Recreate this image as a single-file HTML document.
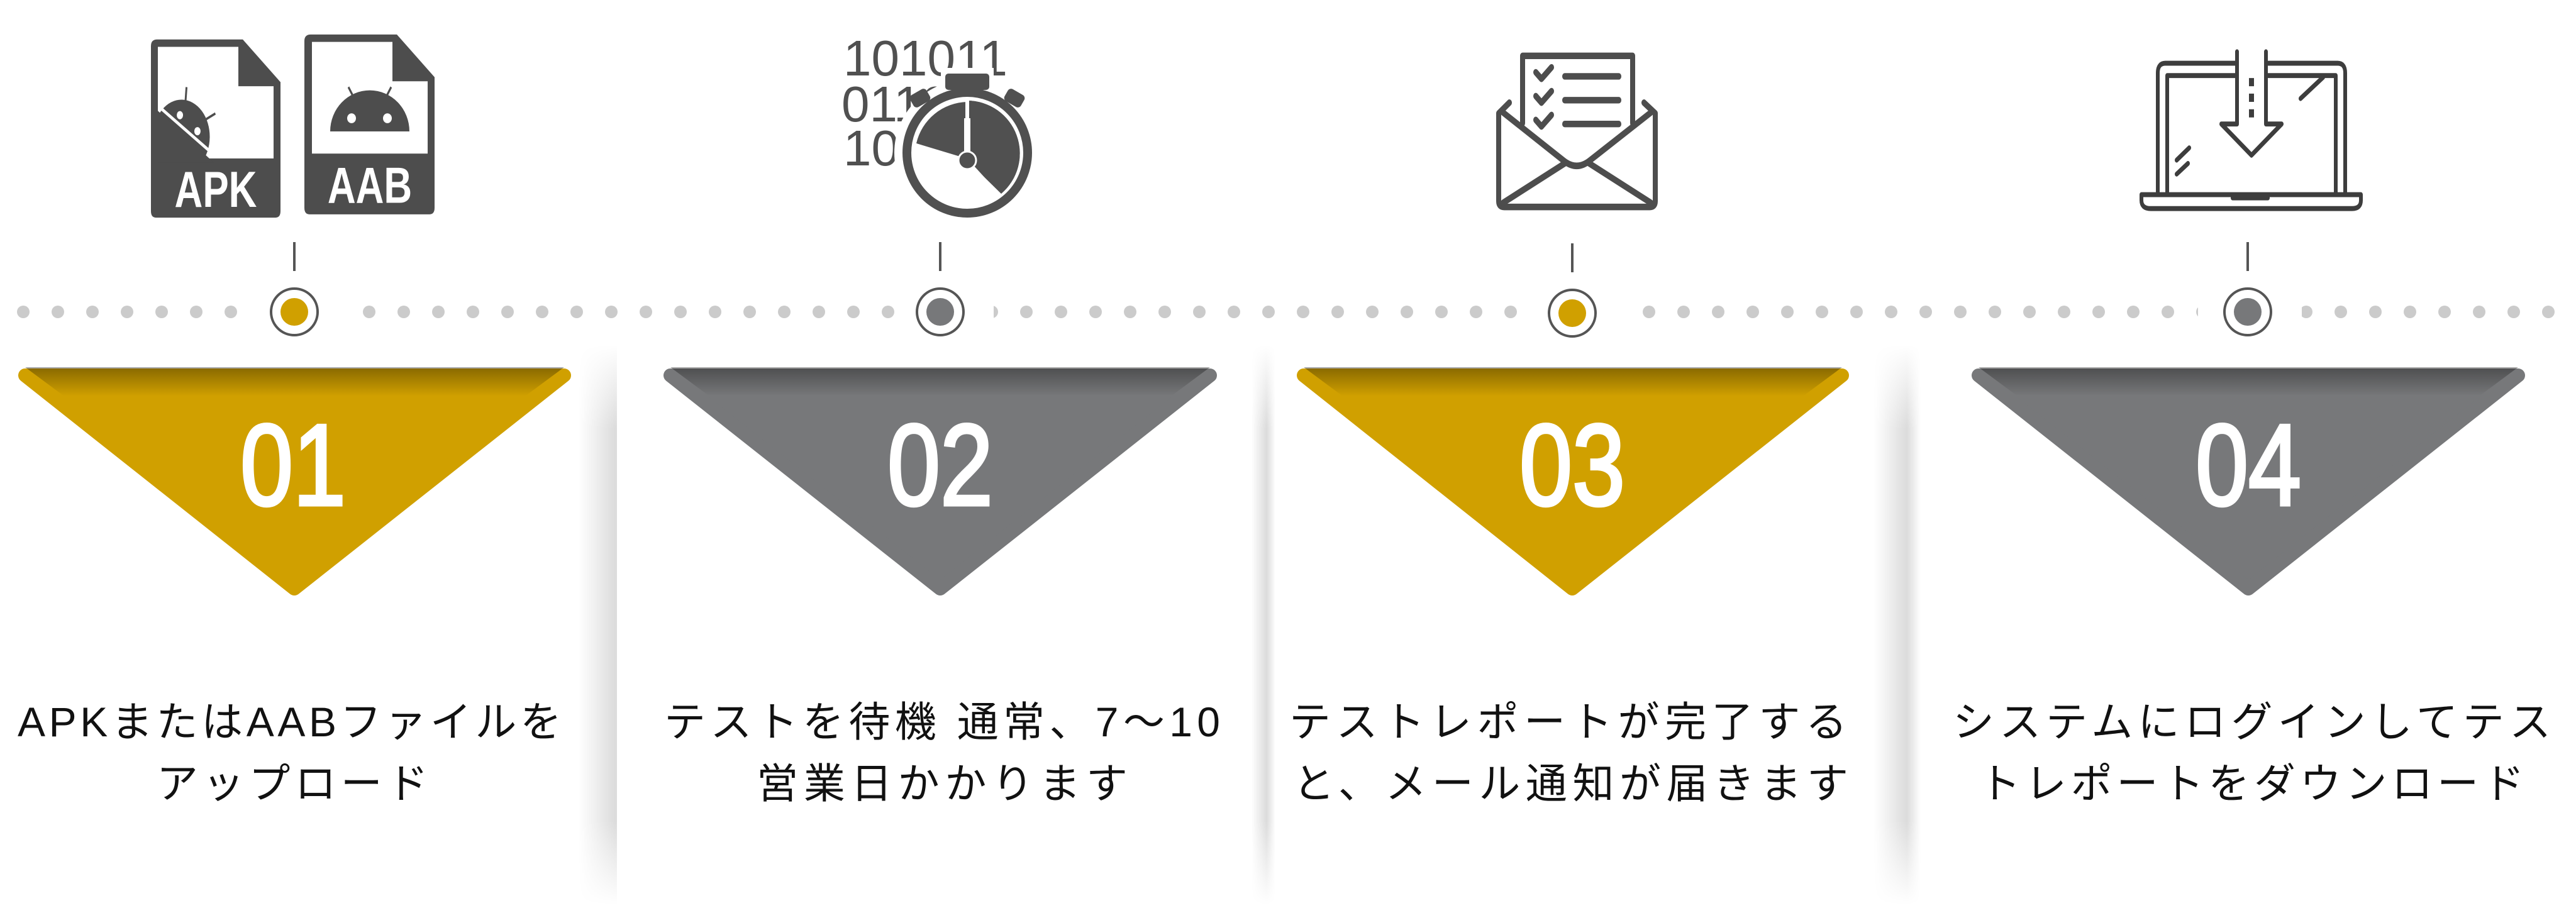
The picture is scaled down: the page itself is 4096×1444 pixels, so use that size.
<!DOCTYPE html>
<html><head><meta charset="utf-8">
<style>
html,body{margin:0;padding:0;background:#fff;}
body{width:4096px;height:1439px;overflow:hidden;}
text{font-family:"Liberation Sans","Noto Sans CJK JP",sans-serif;}
</style></head>
<body>
<svg width="4096" height="1439" viewBox="0 0 4096 1439" xmlns="http://www.w3.org/2000/svg">
<defs>
  <pattern id="dots" x="37" y="0" width="55" height="1439" patternUnits="userSpaceOnUse">
    <ellipse cx="0" cy="496" rx="10" ry="10" fill="#cbcbcb"/>
    <ellipse cx="55" cy="496" rx="10" ry="10" fill="#cbcbcb"/>
  </pattern>
  <linearGradient id="shL" x1="0" x2="1" y1="0" y2="0">
    <stop offset="0" stop-color="#000" stop-opacity="0"/>
    <stop offset="1" stop-color="#000" stop-opacity="0.14"/>
  </linearGradient>
  <linearGradient id="shR" x1="0" x2="1" y1="0" y2="0">
    <stop offset="0" stop-color="#000" stop-opacity="0.14"/>
    <stop offset="1" stop-color="#000" stop-opacity="0"/>
  </linearGradient>
  <linearGradient id="fadeV" x1="0" x2="0" y1="0" y2="1">
    <stop offset="0" stop-color="#fff" stop-opacity="0"/>
    <stop offset="0.15" stop-color="#fff" stop-opacity="1"/>
    <stop offset="0.85" stop-color="#fff" stop-opacity="1"/>
    <stop offset="1" stop-color="#fff" stop-opacity="0"/>
  </linearGradient>
  <mask id="vm" maskUnits="userSpaceOnUse" x="0" y="0" width="4096" height="1439">
    <rect x="0" y="548" width="4096" height="891" fill="url(#fadeV)"/>
  </mask>
  <linearGradient id="topsh" x1="0" x2="0" y1="0" y2="1">
    <stop offset="0" stop-color="#000" stop-opacity="0.35"/>
    <stop offset="1" stop-color="#000" stop-opacity="0"/>
  </linearGradient>
</defs>

<!-- panel shadows -->
<g mask="url(#vm)">
  <rect x="920" y="548" width="59" height="891" fill="url(#shL)"/>
  <rect x="979" y="548" width="2" height="891" fill="#dcdcdc"/>
  <rect x="2014" y="548" width="14" height="891" fill="url(#shR)"/>
  <rect x="1990" y="548" width="24" height="891" fill="url(#shL)"/>
  <rect x="2980" y="548" width="52" height="891" fill="url(#shL)"/>
  <rect x="3032" y="548" width="22" height="891" fill="url(#shR)"/>
</g>

<!-- dotted line -->
<rect x="20" y="480" width="390" height="40" fill="url(#dots)"/>
<rect x="555" y="480" width="870" height="40" fill="url(#dots)"/>
<rect x="1580" y="480" width="840" height="40" fill="url(#dots)"/>
<rect x="2585" y="480" width="910" height="40" fill="url(#dots)"/>
<rect x="3660" y="480" width="436" height="40" fill="url(#dots)"/>

<!-- ticks + circles -->
<g fill="#555">
  <rect x="466" y="385" width="4" height="46"/>
  <rect x="1493" y="385" width="4" height="46"/>
  <rect x="2498" y="387" width="4" height="46"/>
  <rect x="3572" y="385" width="4" height="46"/>
</g>
<g stroke="#555" stroke-width="4" fill="#fff">
  <circle cx="468" cy="496" r="37"/>
  <circle cx="1495" cy="496" r="37"/>
  <circle cx="2500" cy="498" r="37"/>
  <circle cx="3574" cy="496" r="37"/>
</g>
<circle cx="468" cy="496" r="22" fill="#d0a000"/>
<circle cx="1495" cy="496" r="22" fill="#77787a"/>
<circle cx="2500" cy="498" r="22" fill="#d0a000"/>
<circle cx="3574" cy="496" r="22" fill="#77787a"/>

<!-- triangles -->
<g stroke-linejoin="round" stroke-width="22">
  <polygon points="40,597 897,597 468,936" fill="#d0a000" stroke="#d0a000"/>
  <polygon points="1066,597 1924,597 1495,936" fill="#77787a" stroke="#77787a"/>
  <polygon points="2073,597 2929,597 2500,936" fill="#d0a000" stroke="#d0a000"/>
  <polygon points="3146,597 4004,597 3575,936" fill="#77787a" stroke="#77787a"/>
</g>
<g fill="url(#topsh)">
  <polygon points="40,584 897,584 835,630 102,630"/>
  <polygon points="1066,584 1924,584 1862,630 1128,630"/>
  <polygon points="2073,584 2929,584 2867,630 2135,630"/>
  <polygon points="3146,584 4004,584 3942,630 3208,630"/>
</g>
<g fill="#fff" stroke="#fff" stroke-width="5" font-size="184" text-anchor="middle">
  <text transform="translate(466,803) scale(0.82,1)">01</text>
  <text transform="translate(1495,803) scale(0.82,1)">02</text>
  <text transform="translate(2500,803) scale(0.82,1)">03</text>
  <text transform="translate(3575,803) scale(0.82,1)">04</text>
</g>

<!-- captions -->
<g fill="#111" font-size="66">
  <text x="28" y="1171" textLength="865" lengthAdjust="spacing">APKまたはAABファイルを</text>
  <text x="249" y="1269" textLength="432" lengthAdjust="spacing">アップロード</text>
  <text x="1056" y="1171" textLength="884" lengthAdjust="spacing">テストを待機 通常、7〜10</text>
  <text x="1203" y="1269" textLength="590" lengthAdjust="spacing">営業日かかります</text>
  <text x="2050" y="1171" textLength="887" lengthAdjust="spacing">テストレポートが完了する</text>
  <text x="2056" y="1269" textLength="883" lengthAdjust="spacing">と、メール通知が届きます</text>
  <text x="3105" y="1171" textLength="951" lengthAdjust="spacing">システムにログインしてテス</text>
  <text x="3147" y="1269" textLength="867" lengthAdjust="spacing">トレポートをダウンロード</text>
</g>

<!-- stopwatch (real coords) -->
<g fill="#505050" font-size="80">
  <text x="1341" y="120">101011</text>
  <text x="1338" y="193">0110</text>
  <text x="1341" y="263">10</text>
</g>
<circle cx="1538" cy="243" r="116" fill="#fff"/>
<rect x="1496" y="108" width="84" height="36" fill="#fff"/>
<rect x="1503" y="117" width="70" height="26" rx="5" fill="#505050"/>
<rect x="1448" y="145" width="30" height="22" rx="6" fill="#505050" transform="rotate(-30 1463 156)"/>
<rect x="1598" y="145" width="30" height="22" rx="6" fill="#505050" transform="rotate(30 1613 156)"/>
<circle cx="1538" cy="243" r="96" fill="#fff" stroke="#505050" stroke-width="14"/>
<path d="M1538,255 L1457,228 A85,85 0 0 1 1538,162 L1538,160 A84,84 0 0 1 1592,308 Z" fill="#505050"/>
<path d="M1538,160 A84,84 0 0 1 1592,308 L1538,255 Z" fill="#505050"/>
<line x1="1538" y1="255" x2="1538" y2="160" stroke="#fff" stroke-width="6"/>
<rect x="1533" y="188" width="10" height="60" fill="#fff"/>
<line x1="1538" y1="255" x2="1455" y2="230" stroke="#fff" stroke-width="5"/>
<line x1="1538" y1="255" x2="1590" y2="312" stroke="#fff" stroke-width="4"/>
<circle cx="1538" cy="255" r="14" fill="#505050" stroke="#fff" stroke-width="3"/>

<g transform="scale(1,1.306)">
<!-- APK icon -->
<path d="M250,48 H386 L446,100 V257 Q446,265 438,265 H248 Q240,265 240,257 V56 Q240,48 250,48 Z" fill="#4d4d4d"/>
<path d="M251,57 H379 V105 H435 V193 H251 Z" fill="#fff"/>
<g transform="rotate(35 300 150)">
  <path d="M255,170 A45,45 0 0 1 345,170 Z" fill="#4d4d4d"/>
  <circle cx="283" cy="150" r="5" fill="#fff"/>
  <circle cx="317" cy="150" r="5" fill="#fff"/>
  <line x1="280" y1="130" x2="272" y2="116" stroke="#4d4d4d" stroke-width="3"/>
  <line x1="320" y1="130" x2="328" y2="116" stroke="#4d4d4d" stroke-width="3"/>
</g>
<path d="M251,135 L340,198 L251,198 Z" fill="#4d4d4d"/>
<line x1="253" y1="130" x2="335" y2="185" stroke="#fff" stroke-width="4"/>
<text x="343" y="252" fill="#fff" font-size="62" font-weight="bold" text-anchor="middle">APK</text>

<!-- AAB icon -->
<path d="M494,42 H631 L691,94 V253 Q691,261 683,261 H492 Q484,261 484,253 V50 Q484,42 494,42 Z" fill="#4d4d4d"/>
<path d="M496,51 H624 V99 H680 V187 H496 Z" fill="#fff"/>
<path d="M525,160 A63,50 0 0 1 651,160 Z" fill="#4d4d4d"/>
<ellipse cx="559" cy="144" rx="7" ry="6" fill="#fff"/>
<ellipse cx="616" cy="144" rx="7" ry="6" fill="#fff"/>
<line x1="562" y1="118" x2="554" y2="106" stroke="#4d4d4d" stroke-width="3"/>
<line x1="614" y1="118" x2="622" y2="106" stroke="#4d4d4d" stroke-width="3"/>
<text x="588" y="247" fill="#fff" font-size="62" font-weight="bold" text-anchor="middle">AAB</text>

<!-- envelope -->
<g fill="none" stroke="#4d4d4d" stroke-width="8" stroke-linecap="round" stroke-linejoin="round">
  <path d="M2421,150 V68 H2596 V150"/>
  <path d="M2400,125 L2383,138 V245 Q2383,252 2392,252 H2623 Q2632,252 2632,245 V138 L2614,125"/>
  <path d="M2390,137 L2487,196 Q2507,208 2527,196 L2625,137"/>
  <path d="M2390,247 L2490,198"/>
  <path d="M2525,198 L2625,247"/>
  <path d="M2442,88 l9,8 l16,-14"/>
  <path d="M2442,117 l9,8 l16,-14"/>
  <path d="M2442,146 l9,8 l16,-14"/>
  <path d="M2488,93 H2574"/>
  <path d="M2488,122 H2574"/>
  <path d="M2488,151 H2574"/>
</g>

<!-- laptop -->
<g fill="none" stroke="#3d3d3d" stroke-width="6" stroke-linejoin="round" stroke-linecap="round">
  <path d="M3554,77 H3443 Q3431,77 3431,89 V237"/>
  <path d="M3603,77 H3717 Q3729,77 3729,89 V237"/>
  <path d="M3554,92 H3446 V237"/>
  <path d="M3603,92 H3714 V237"/>
  <path d="M3405,237 H3754 V244 Q3754,254 3740,254 H3420 Q3405,254 3405,244 Z"/>
  <path d="M3557,63 V151 H3532 L3580,189 L3628,151 H3603 V63"/>
  <path d="M3658,120 L3694,94"/>
  <path d="M3461,195 L3481,180"/>
  <path d="M3461,212 L3479,199"/>
</g>
<rect x="3547" y="237" width="62" height="7" rx="3" fill="#3d3d3d"/>
<line x1="3580" y1="95" x2="3580" y2="150" stroke="#3d3d3d" stroke-width="8" stroke-dasharray="10 9"/>
</g>
</svg>
</body></html>
